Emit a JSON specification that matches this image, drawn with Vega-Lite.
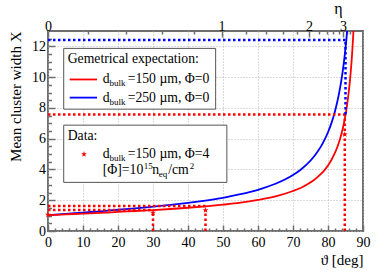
{
  "$schema": "https://vega.github.io/schema/vega-lite/v6.json",
  "width": 315,
  "height": 200,
  "autosize": "none",
  "padding": {"left": 48, "top": 31, "right": 27, "bottom": 47},
  "config": {
    "view": {"stroke": "#6e6e6e", "strokeWidth": 2},
    "font": "Liberation Serif",
    "axis": {
      "labelFont": "Liberation Serif", "titleFont": "Liberation Serif",
      "labelColor": "black", "titleColor": "black", "titleFontWeight": "normal",
      "labelFontSize": 14, "titleFontSize": 15, "domain": false, "labelFlush": false,
      "tickColor": "#6e6e6e", "tickWidth": 1.5,
      "gridColor": "#b4b4b4", "gridDash": [1, 2], "gridWidth": 1
    }
  },
  "datasets": {
    "red": [
      {"theta": 0, "X": 1.03}, {"theta": 5, "X": 1.08}, {"theta": 10, "X": 1.13}, {"theta": 15, "X": 1.18},
      {"theta": 20, "X": 1.24}, {"theta": 25, "X": 1.30}, {"theta": 30, "X": 1.36}, {"theta": 35, "X": 1.43},
      {"theta": 40, "X": 1.51}, {"theta": 45, "X": 1.60}, {"theta": 50, "X": 1.71}, {"theta": 55, "X": 1.84},
      {"theta": 60, "X": 2.02}, {"theta": 65, "X": 2.25}, {"theta": 70, "X": 2.60}, {"theta": 72, "X": 2.78},
      {"theta": 74, "X": 3.02}, {"theta": 76, "X": 3.32}, {"theta": 77, "X": 3.50}, {"theta": 78, "X": 3.71},
      {"theta": 79, "X": 3.96}, {"theta": 80, "X": 4.26}, {"theta": 81, "X": 4.63}, {"theta": 82, "X": 5.09},
      {"theta": 82.5, "X": 5.36}, {"theta": 83, "X": 5.67}, {"theta": 83.5, "X": 6.03}, {"theta": 84, "X": 6.45},
      {"theta": 84.5, "X": 6.95}, {"theta": 85, "X": 7.55}, {"theta": 85.5, "X": 8.27}, {"theta": 86, "X": 9.18},
      {"theta": 86.25, "X": 9.73}, {"theta": 86.5, "X": 10.35}, {"theta": 86.75, "X": 11.07}, {"theta": 87, "X": 11.91},
      {"theta": 87.25, "X": 12.90}, {"theta": 87.5, "X": 14.08}
    ],
    "blue": [
      {"theta": 0, "X": 1.03}, {"theta": 5, "X": 1.11}, {"theta": 10, "X": 1.20}, {"theta": 15, "X": 1.28},
      {"theta": 20, "X": 1.38}, {"theta": 25, "X": 1.47}, {"theta": 30, "X": 1.58}, {"theta": 35, "X": 1.70},
      {"theta": 40, "X": 1.83}, {"theta": 45, "X": 1.98}, {"theta": 50, "X": 2.16}, {"theta": 55, "X": 2.39},
      {"theta": 60, "X": 2.68}, {"theta": 65, "X": 3.07}, {"theta": 70, "X": 3.64}, {"theta": 72, "X": 3.95},
      {"theta": 74, "X": 4.34}, {"theta": 76, "X": 4.84}, {"theta": 77, "X": 5.15}, {"theta": 78, "X": 5.50},
      {"theta": 79, "X": 5.92}, {"theta": 80, "X": 6.42}, {"theta": 81, "X": 7.03}, {"theta": 82, "X": 7.79},
      {"theta": 82.5, "X": 8.25}, {"theta": 83, "X": 8.77}, {"theta": 83.5, "X": 9.37}, {"theta": 84, "X": 10.07},
      {"theta": 84.25, "X": 10.46}, {"theta": 84.5, "X": 10.90}, {"theta": 84.75, "X": 11.37}, {"theta": 85, "X": 11.89},
      {"theta": 85.25, "X": 12.46}, {"theta": 85.5, "X": 13.10}, {"theta": 85.75, "X": 13.81}
    ],
    "guides_red": [
      {"x": 0, "y": 1.36, "x2": 30, "y2": 1.36},
      {"x": 0, "y": 1.62, "x2": 45, "y2": 1.62},
      {"x": 30, "y": 0, "x2": 30, "y2": 1.19},
      {"x": 45, "y": 0, "x2": 45, "y2": 1.35},
      {"x": 0, "y": 7.58, "x2": 84.8, "y2": 7.58},
      {"x": 84.8, "y": 0, "x2": 84.8, "y2": 7.58}
    ],
    "guides_blue": [
      {"x": 0, "y": 12.42, "x2": 85, "y2": 12.42},
      {"x": 85, "y": 7.58, "x2": 85, "y2": 12.42}
    ],
    "data_points": [
      {"theta": 0, "X": 1.05}, {"theta": 30, "X": 1.19}, {"theta": 45, "X": 1.35}, {"theta": 84.8, "X": 6.28}
    ]
  },
  "resolve": {"axis": {"x": "independent", "y": "independent"}},
  "layer": [
    {
      "data": {"name": "blue"},
      "mark": {"type": "line", "color": "#0000ff", "strokeWidth": 1.8, "clip": true, "interpolate": "monotone"},
      "encoding": {
        "x": {"field": "theta", "type": "quantitative", "scale": {"domain": [0, 90], "nice": false},
          "axis": {"orient": "bottom", "values": [2,4,6,8,12,14,16,18,22,24,26,28,32,34,36,38,42,44,46,48,52,54,56,58,62,64,66,68,72,74,76,78,82,84,86,88],
            "labels": false, "grid": false, "tickSize": -3, "title": null}},
        "y": {"field": "X", "type": "quantitative", "scale": {"domain": [0, 13], "nice": false},
          "axis": {"orient": "left", "values": [0.5,1,1.5,2.5,3,3.5,4.5,5,5.5,6.5,7,7.5,8.5,9,9.5,10.5,11,11.5,12.5],
            "labels": false, "grid": false, "tickSize": -3.5, "title": null}}
      }
    },
    {
      "data": {"name": "red"},
      "mark": {"type": "line", "color": "#ff0000", "strokeWidth": 1.8, "clip": true, "interpolate": "monotone"},
      "encoding": {
        "x": {"field": "theta", "type": "quantitative",
          "axis": {"orient": "bottom", "values": [0,10,20,30,40,50,60,70,80,90], "grid": true, "tickSize": -6,
            "labelPadding": 10, "title": "ϑ [deg]", "titleAnchor": "end", "titlePadding": 3}},
        "y": {"field": "X", "type": "quantitative",
          "axis": {"orient": "left", "values": [0,2,4,6,8,10,12], "grid": true, "tickSize": -7,
            "labelPadding": 9.5, "title": "Mean cluster width X", "titleAnchor": "end", "titlePadding": 8}}
      }
    },
    {
      "data": {"name": "guides_red"},
      "mark": {"type": "rule", "color": "#ff0000", "strokeWidth": 2.5, "strokeDash": [2.5, 2.5]},
      "encoding": {
        "x": {"field": "x", "type": "quantitative",
          "axis": {"orient": "top", "values": [0, 49.6, 74.59, 84.3], "grid": false, "tickSize": -6, "labelPadding": 4,
            "labelExpr": "datum.value < 1 ? '0' : datum.value < 60 ? '1' : datum.value < 80 ? '2' : '3'",
            "title": "η", "titleX": 290, "titleY": -23, "titleAlign": "center", "titleBaseline": "middle", "titleFontSize": 16}},
        "y": {"field": "y", "type": "quantitative", "axis": null},
        "x2": {"field": "x2"},
        "y2": {"field": "y2"}
      }
    },
    {
      "data": {"name": "guides_blue"},
      "mark": {"type": "rule", "color": "#0000ff", "strokeWidth": 2.5, "strokeDash": [2.5, 2.5]},
      "encoding": {
        "x": {"field": "x", "type": "quantitative",
          "axis": {"orient": "top", "values": [11.38, 22.33, 32.48, 41.62, 56.48, 62.30, 67.17, 71.23, 77.35, 79.63, 81.50, 83.04, 85.33, 86.18],
            "labels": false, "grid": false, "tickSize": -3, "title": null}},
        "y": {"field": "y", "type": "quantitative", "axis": null},
        "x2": {"field": "x2"},
        "y2": {"field": "y2"}
      }
    },
    {
      "data": {"name": "data_points"},
      "mark": {"type": "point", "filled": true, "color": "#ff0000", "opacity": 1, "size": 40,
        "shape": "M0,-1L0.2245,-0.309L0.951,-0.309L0.363,0.118L0.588,0.809L0,0.382L-0.588,0.809L-0.363,0.118L-0.951,-0.309L-0.2245,-0.309Z"},
      "encoding": {
        "x": {"field": "theta", "type": "quantitative", "axis": null},
        "y": {"field": "X", "type": "quantitative", "axis": null}
      }
    },
    {
      "data": {"values": [{}]},
      "mark": {"type": "rect", "fill": "white", "stroke": "#555555", "strokeWidth": 1},
      "encoding": {
        "x": {"datum": 4.49, "type": "quantitative", "axis": null}, "x2": {"datum": 47.9},
        "y": {"datum": 7.92, "type": "quantitative", "axis": null}, "y2": {"datum": 11.87}
      }
    },
    {
      "data": {"values": [{}]},
      "mark": {"type": "rect", "fill": "white", "stroke": "#555555", "strokeWidth": 1},
      "encoding": {
        "x": {"datum": 4.49, "type": "quantitative", "axis": null}, "x2": {"datum": 51.1},
        "y": {"datum": 3.16, "type": "quantitative", "axis": null}, "y2": {"datum": 6.88}
      }
    },
    {
      "data": {"values": [{}]},
      "mark": {"type": "rule", "color": "#ff0000", "strokeWidth": 1.8},
      "encoding": {
        "x": {"datum": 6.2, "type": "quantitative", "axis": null}, "x2": {"datum": 14.0},
        "y": {"datum": 9.85, "type": "quantitative", "axis": null}
      }
    },
    {
      "data": {"values": [{}]},
      "mark": {"type": "rule", "color": "#0000ff", "strokeWidth": 1.8},
      "encoding": {
        "x": {"datum": 6.2, "type": "quantitative", "axis": null}, "x2": {"datum": 14.0},
        "y": {"datum": 8.67, "type": "quantitative", "axis": null}
      }
    },
    {
      "data": {"values": [{}]},
      "mark": {"type": "point", "filled": true, "color": "#ff0000", "opacity": 1, "size": 40,
        "shape": "M0,-1L0.2245,-0.309L0.951,-0.309L0.363,0.118L0.588,0.809L0,0.382L-0.588,0.809L-0.363,0.118L-0.951,-0.309L-0.2245,-0.309Z"},
      "encoding": {
        "x": {"datum": 10.29, "type": "quantitative", "axis": null},
        "y": {"datum": 4.99, "type": "quantitative", "axis": null}
      }
    },
    {
      "data": {"values": [{}]},
      "mark": {"type": "text", "align": "left", "baseline": "middle", "fontSize": 13.7},
      "encoding": {
        "x": {"datum": 5.63, "type": "quantitative", "axis": null},
        "y": {"datum": 11.19, "type": "quantitative", "axis": null},
        "text": {"value": "Gemetrical expectation:"}
      }
    },
    {
      "data": {"values": [{}]},
      "mark": {"type": "text", "align": "left", "baseline": "middle", "fontSize": 13.7},
      "encoding": {
        "x": {"datum": 5.63, "type": "quantitative", "axis": null},
        "y": {"datum": 6.17, "type": "quantitative", "axis": null},
        "text": {"value": "Data:"}
      }
    },
    {
      "data": {"values": [{}]},
      "mark": {"type": "text", "align": "left", "baseline": "middle", "fontSize": 13.7},
      "encoding": {
        "x": {"datum": 15.63, "type": "quantitative", "axis": null},
        "y": {"datum": 9.85, "type": "quantitative", "axis": null},
        "text": {"value": "d"}
      }
    },
    {
      "data": {"values": [{}]},
      "mark": {"type": "text", "align": "left", "baseline": "middle", "fontSize": 9, "dx": 6.7, "dy": 4},
      "encoding": {
        "x": {"datum": 15.63, "type": "quantitative", "axis": null},
        "y": {"datum": 9.85, "type": "quantitative", "axis": null},
        "text": {"value": "bulk"}
      }
    },
    {
      "data": {"values": [{}]},
      "mark": {"type": "text", "align": "left", "baseline": "middle", "fontSize": 13.7, "dx": 25},
      "encoding": {
        "x": {"datum": 15.63, "type": "quantitative", "axis": null},
        "y": {"datum": 9.85, "type": "quantitative", "axis": null},
        "text": {"value": "=150 µm, Φ=0"}
      }
    },
    {
      "data": {"values": [{}]},
      "mark": {"type": "text", "align": "left", "baseline": "middle", "fontSize": 13.7},
      "encoding": {
        "x": {"datum": 15.63, "type": "quantitative", "axis": null},
        "y": {"datum": 8.67, "type": "quantitative", "axis": null},
        "text": {"value": "d"}
      }
    },
    {
      "data": {"values": [{}]},
      "mark": {"type": "text", "align": "left", "baseline": "middle", "fontSize": 9, "dx": 6.7, "dy": 4},
      "encoding": {
        "x": {"datum": 15.63, "type": "quantitative", "axis": null},
        "y": {"datum": 8.67, "type": "quantitative", "axis": null},
        "text": {"value": "bulk"}
      }
    },
    {
      "data": {"values": [{}]},
      "mark": {"type": "text", "align": "left", "baseline": "middle", "fontSize": 13.7, "dx": 25},
      "encoding": {
        "x": {"datum": 15.63, "type": "quantitative", "axis": null},
        "y": {"datum": 8.67, "type": "quantitative", "axis": null},
        "text": {"value": "=250 µm, Φ=0"}
      }
    },
    {
      "data": {"values": [{}]},
      "mark": {"type": "text", "align": "left", "baseline": "middle", "fontSize": 13.7},
      "encoding": {
        "x": {"datum": 15.63, "type": "quantitative", "axis": null},
        "y": {"datum": 4.99, "type": "quantitative", "axis": null},
        "text": {"value": "d"}
      }
    },
    {
      "data": {"values": [{}]},
      "mark": {"type": "text", "align": "left", "baseline": "middle", "fontSize": 9, "dx": 6.7, "dy": 4},
      "encoding": {
        "x": {"datum": 15.63, "type": "quantitative", "axis": null},
        "y": {"datum": 4.99, "type": "quantitative", "axis": null},
        "text": {"value": "bulk"}
      }
    },
    {
      "data": {"values": [{}]},
      "mark": {"type": "text", "align": "left", "baseline": "middle", "fontSize": 13.7, "dx": 25},
      "encoding": {
        "x": {"datum": 15.63, "type": "quantitative", "axis": null},
        "y": {"datum": 4.99, "type": "quantitative", "axis": null},
        "text": {"value": "=150 µm, Φ=4"}
      }
    },
    {
      "data": {"values": [{}]},
      "mark": {"type": "text", "align": "left", "baseline": "middle", "fontSize": 13.7},
      "encoding": {
        "x": {"datum": 15.63, "type": "quantitative", "axis": null},
        "y": {"datum": 3.98, "type": "quantitative", "axis": null},
        "text": {"value": "[Φ]=10"}
      }
    },
    {
      "data": {"values": [{}]},
      "mark": {"type": "text", "align": "left", "baseline": "middle", "fontSize": 9, "dx": 41, "dy": -4},
      "encoding": {
        "x": {"datum": 15.63, "type": "quantitative", "axis": null},
        "y": {"datum": 3.98, "type": "quantitative", "axis": null},
        "text": {"value": "15"}
      }
    },
    {
      "data": {"values": [{}]},
      "mark": {"type": "text", "align": "left", "baseline": "middle", "fontSize": 13.7, "dx": 49.5},
      "encoding": {
        "x": {"datum": 15.63, "type": "quantitative", "axis": null},
        "y": {"datum": 3.98, "type": "quantitative", "axis": null},
        "text": {"value": "n"}
      }
    },
    {
      "data": {"values": [{}]},
      "mark": {"type": "text", "align": "left", "baseline": "middle", "fontSize": 9, "dx": 56, "dy": 4},
      "encoding": {
        "x": {"datum": 15.63, "type": "quantitative", "axis": null},
        "y": {"datum": 3.98, "type": "quantitative", "axis": null},
        "text": {"value": "eq"}
      }
    },
    {
      "data": {"values": [{}]},
      "mark": {"type": "text", "align": "left", "baseline": "middle", "fontSize": 13.7, "dx": 65.5},
      "encoding": {
        "x": {"datum": 15.63, "type": "quantitative", "axis": null},
        "y": {"datum": 3.98, "type": "quantitative", "axis": null},
        "text": {"value": "/cm"}
      }
    },
    {
      "data": {"values": [{}]},
      "mark": {"type": "text", "align": "left", "baseline": "middle", "fontSize": 9, "dx": 87, "dy": -4},
      "encoding": {
        "x": {"datum": 15.63, "type": "quantitative", "axis": null},
        "y": {"datum": 3.98, "type": "quantitative", "axis": null},
        "text": {"value": "2"}
      }
    }
  ]
}
